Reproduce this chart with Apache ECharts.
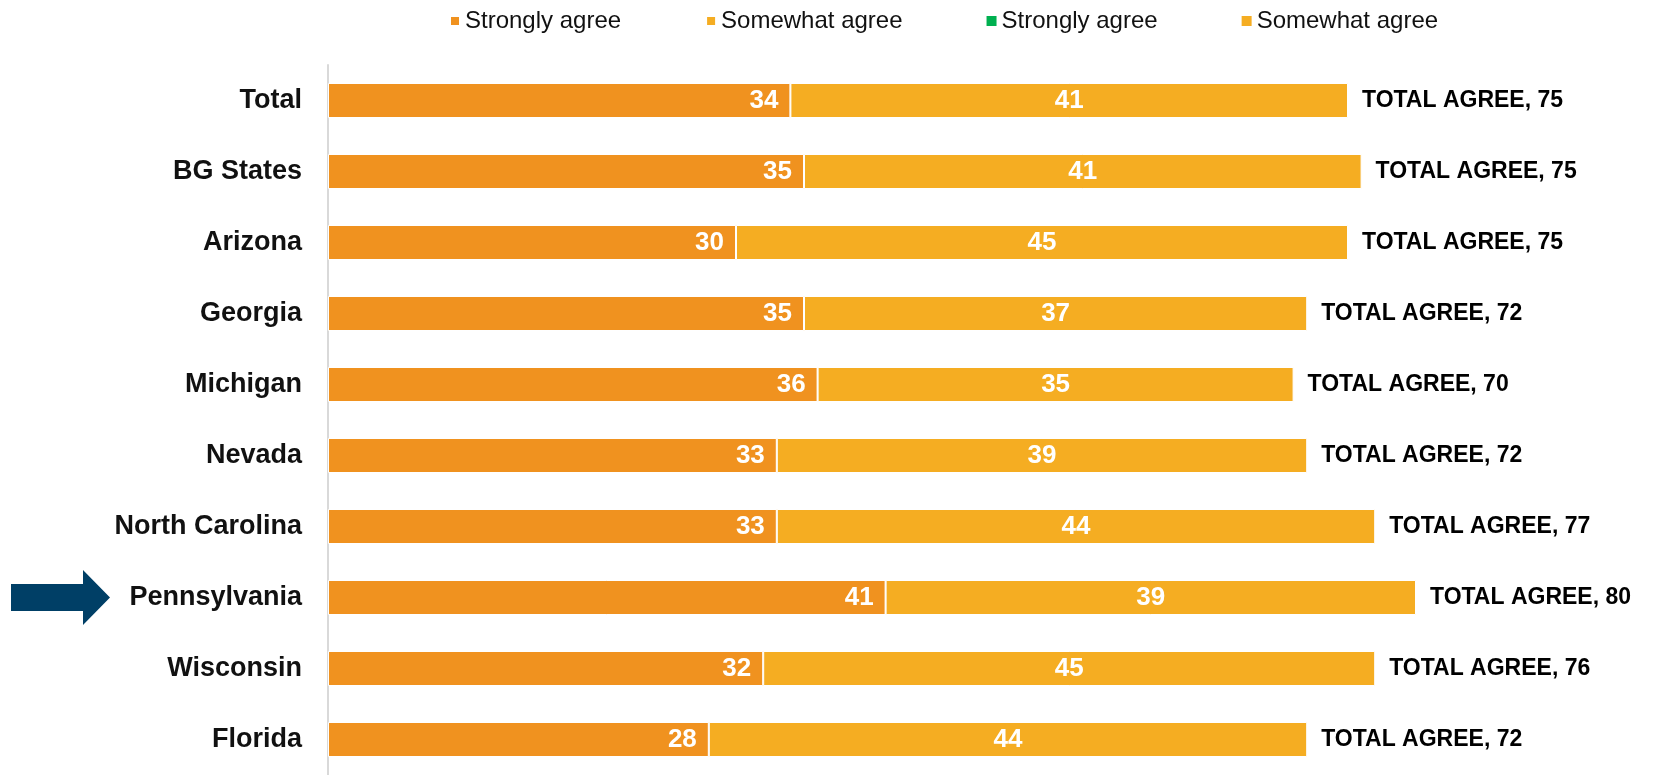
<!DOCTYPE html>
<html>
<head>
<meta charset="utf-8">
<script src="https://cdn.jsdelivr.net/npm/echarts@6/dist/echarts.min.js"></script>
<style>
  html, body { margin: 0; padding: 0; background: #fff; }
  #main { width: 1657px; height: 775px; }
</style>
</head>
<body>
<div id="main"></div>
<script>
// categories, top to bottom
var regions = ['Total', 'BG States', 'Arizona', 'Georgia', 'Michigan', 'Nevada',
  'North Carolina', 'Pennsylvania', 'Wisconsin', 'Florida'];
var stronglyAgree = [34, 35, 30, 35, 36, 33, 33, 41, 32, 28];
var somewhatAgree = [41, 41, 45, 37, 35, 39, 44, 39, 45, 44];
var totalAgree = [75, 75, 75, 72, 70, 72, 77, 80, 76, 72];
var highlighted = 'Pennsylvania';

var myChart = echarts.init(document.getElementById('main'));

var font = '"Liberation Sans", Arial, sans-serif';

myChart.setOption({
    animation: false,
    textStyle: { fontFamily: font },
    legend: {
        left: 444,
        top: 4,
        itemWidth: 10,
        itemHeight: 10,
        itemGap: 84,
        icon: 'rect',
        textStyle: { fontSize: 24, color: '#111', fontFamily: font },
        // trailing spaces keep duplicated names apart
        formatter: function (name) { return name.trim(); },
        data: ['Strongly agree', 'Somewhat agree', 'Strongly agree ', 'Somewhat agree ']
    },
    grid: {
        left: 328,
        right: 105,
        top: 65,
        bottom: -4,
        containLabel: false
    },
    xAxis: {
        type: 'value',
        min: 0,
        max: 90,
        show: false
    },
    yAxis: {
        type: 'category',
        inverse: true,
        data: regions,
        axisLine: { show: true, lineStyle: { color: '#d9d9d9', width: 2 } },
        axisTick: { show: false },
        axisLabel: {
            margin: 26,
            fontSize: 27,
            fontWeight: 'bold',
            color: '#111',
            fontFamily: font
        }
    },
    series: [
        {
            name: 'Strongly agree',
            type: 'bar',
            stack: 'agree',
            barWidth: 35,
            itemStyle: { color: '#F0921F', borderColor: '#fff', borderWidth: 1 },
            label: {
                show: true,
                position: 'insideRight',
                distance: 12,
                color: '#fff',
                fontSize: 26,
                fontWeight: 'bold',
                fontFamily: font
            },
            data: stronglyAgree
        },
        {
            name: 'Somewhat agree',
            type: 'bar',
            stack: 'agree',
            itemStyle: { color: '#F5AD22', borderColor: '#fff', borderWidth: 1 },
            label: {
                show: true,
                position: 'inside',
                color: '#fff',
                fontSize: 26,
                fontWeight: 'bold',
                fontFamily: font
            },
            data: somewhatAgree
        },
        {
            // zero-width end of the stack, carries the total label
            name: 'total',
            type: 'bar',
            stack: 'agree',
            silent: true,
            itemStyle: { color: 'rgba(0,0,0,0)' },
            label: {
                show: true,
                position: 'right',
                distance: 14,
                color: '#000',
                fontSize: 23,
                fontWeight: 'bold',
                fontFamily: font,
                formatter: function (p) { return 'TOTAL AGREE, ' + totalAgree[p.dataIndex]; }
            },
            data: regions.map(function () { return 0; })
        },
        {
            name: 'Strongly agree ',
            type: 'bar',
            stack: 'agree',
            itemStyle: { color: '#00B050' },
            data: []
        },
        {
            name: 'Somewhat agree ',
            type: 'bar',
            stack: 'agree',
            itemStyle: { color: '#F5AD22' },
            data: []
        }
    ]
});

// arrow pointing at the highlighted row
var ay = myChart.convertToPixel({ yAxisIndex: 0 }, highlighted);
myChart.setOption({
    graphic: [{
        type: 'polygon',
        shape: {
            points: [[11, ay - 13.5], [83, ay - 13.5], [83, ay - 27.5], [110, ay],
                     [83, ay + 27.5], [83, ay + 13.5], [11, ay + 13.5]]
        },
        style: { fill: '#003F66' }
    }]
});
</script>
</body>
</html>
